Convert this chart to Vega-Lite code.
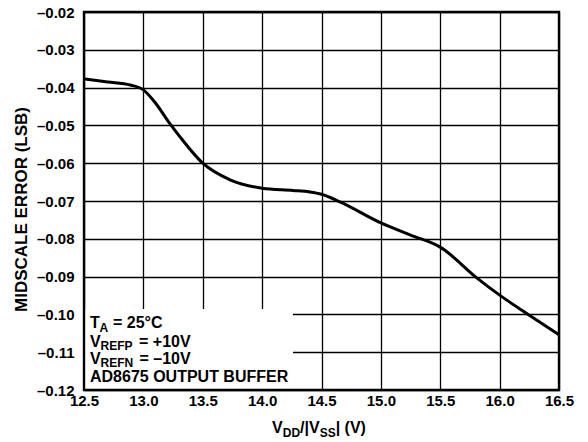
{
  "$schema": "https://vega.github.io/schema/vega-lite/v6.json",
  "width": 475,
  "height": 378,
  "autosize": {"type": "none"},
  "padding": {"left": 84, "top": 12, "right": 29, "bottom": 52},
  "background": "white",
  "config": {
    "font": "Liberation Sans",
    "view": {"stroke": null},
    "axis": {
      "domain": false,
      "ticks": false,
      "grid": true,
      "gridColor": "#000000",
      "gridWidth": 1.3,
      "gridOpacity": 1,
      "labelFont": "Liberation Sans",
      "labelFontWeight": "bold",
      "labelFontSize": 15,
      "labelColor": "#000000",
      "labelFlush": false,
      "labelOverlap": false,
      "titleFont": "Liberation Sans",
      "titleFontWeight": "bold",
      "titleColor": "#000000"
    },
    "text": {"font": "Liberation Sans", "fontWeight": "bold", "color": "#000000", "align": "left", "baseline": "alphabetic"}
  },
  "data": {
    "values": [
      {"v": 12.5, "err": -0.0377},
      {"v": 12.7, "err": -0.0385},
      {"v": 12.89, "err": -0.0393},
      {"v": 13.0, "err": -0.0406},
      {"v": 13.1, "err": -0.0440},
      {"v": 13.22, "err": -0.0494},
      {"v": 13.31, "err": -0.0531},
      {"v": 13.5, "err": -0.0600},
      {"v": 13.73, "err": -0.0644},
      {"v": 14.0, "err": -0.0666},
      {"v": 14.26, "err": -0.0672},
      {"v": 14.4, "err": -0.0676},
      {"v": 14.5, "err": -0.0682},
      {"v": 14.66, "err": -0.0703},
      {"v": 15.0, "err": -0.0758},
      {"v": 15.25, "err": -0.0790},
      {"v": 15.5, "err": -0.0822},
      {"v": 15.81, "err": -0.0904},
      {"v": 16.0, "err": -0.0949},
      {"v": 16.25, "err": -0.1002},
      {"v": 16.5, "err": -0.1054}
    ]
  },
  "layer": [
    {
      "mark": {"type": "line", "color": "#000000", "strokeWidth": 3, "interpolate": "monotone"},
      "encoding": {
        "x": {"field": "v", "type": "quantitative", "scale": {"domain": [12.5, 16.5], "nice": false, "zero": false},
          "axis": {"tickCount": 8, "format": ".1f", "labelPadding": 3, "title": null}},
        "y": {"field": "err", "type": "quantitative", "scale": {"domain": [-0.12, -0.02], "nice": false, "zero": false},
          "axis": {"tickCount": 10, "tickMinStep": 0.01,
            "labelExpr": "'–' + format(abs(datum.value), '.2f')", "labelPadding": 10,
            "title": "MIDSCALE ERROR (LSB)", "titleFontSize": 17, "titleAngle": 270,
            "titleX": -63, "titleY": 197, "titleAlign": "center", "titleBaseline": "middle"}}
      }
    },
    {
      "data": {"values": [{}]},
      "mark": {"type": "rect", "fill": "white", "stroke": null},
      "encoding": {
        "x": {"datum": 12.5, "type": "quantitative"},
        "x2": {"datum": 14.26},
        "y": {"datum": -0.12, "type": "quantitative"},
        "y2": {"datum": -0.0986}
      }
    },
    {
      "data": {"values": [{}]},
      "mark": {"type": "rect", "fill": null, "fillOpacity": 0, "stroke": "#000000", "strokeWidth": 2.4},
      "encoding": {
        "x": {"datum": 12.5, "type": "quantitative"},
        "x2": {"datum": 16.5},
        "y": {"datum": -0.12, "type": "quantitative"},
        "y2": {"datum": -0.02}
      }
    },
    {"data": {"values": [{}]}, "mark": {"type": "text", "text": "T", "fontSize": 16, "dx": 6},
      "encoding": {"x": {"datum": 12.5, "type": "quantitative"}, "y": {"datum": -0.10368, "type": "quantitative"}}},
    {"data": {"values": [{}]}, "mark": {"type": "text", "text": "A", "fontSize": 12, "dx": 15.5, "dy": 3.5},
      "encoding": {"x": {"datum": 12.5, "type": "quantitative"}, "y": {"datum": -0.10368, "type": "quantitative"}}},
    {"data": {"values": [{}]}, "mark": {"type": "text", "text": "= 25°C", "fontSize": 16, "dx": 29},
      "encoding": {"x": {"datum": 12.5, "type": "quantitative"}, "y": {"datum": -0.10368, "type": "quantitative"}}},
    {"data": {"values": [{}]}, "mark": {"type": "text", "text": "V", "fontSize": 16, "dx": 6},
      "encoding": {"x": {"datum": 12.5, "type": "quantitative"}, "y": {"datum": -0.10854, "type": "quantitative"}}},
    {"data": {"values": [{}]}, "mark": {"type": "text", "text": "REFP", "fontSize": 12, "dx": 16.5, "dy": 3.5},
      "encoding": {"x": {"datum": 12.5, "type": "quantitative"}, "y": {"datum": -0.10854, "type": "quantitative"}}},
    {"data": {"values": [{}]}, "mark": {"type": "text", "text": "= +10V", "fontSize": 16, "dx": 55},
      "encoding": {"x": {"datum": 12.5, "type": "quantitative"}, "y": {"datum": -0.10854, "type": "quantitative"}}},
    {"data": {"values": [{}]}, "mark": {"type": "text", "text": "V", "fontSize": 16, "dx": 6},
      "encoding": {"x": {"datum": 12.5, "type": "quantitative"}, "y": {"datum": -0.1132, "type": "quantitative"}}},
    {"data": {"values": [{}]}, "mark": {"type": "text", "text": "REFN", "fontSize": 12, "dx": 16.5, "dy": 3},
      "encoding": {"x": {"datum": 12.5, "type": "quantitative"}, "y": {"datum": -0.1132, "type": "quantitative"}}},
    {"data": {"values": [{}]}, "mark": {"type": "text", "text": "= –10V", "fontSize": 16, "dx": 55.5},
      "encoding": {"x": {"datum": 12.5, "type": "quantitative"}, "y": {"datum": -0.1132, "type": "quantitative"}}},
    {"data": {"values": [{}]}, "mark": {"type": "text", "text": "AD8675 OUTPUT BUFFER", "fontSize": 16, "dx": 6},
      "encoding": {"x": {"datum": 12.5, "type": "quantitative"}, "y": {"datum": -0.1178, "type": "quantitative"}}},
    {"data": {"values": [{}]}, "mark": {"type": "text", "text": "V", "fontSize": 16, "dx": -49.4},
      "encoding": {"x": {"datum": 14.5, "type": "quantitative"}, "y": {"datum": -0.13146, "type": "quantitative"}}},
    {"data": {"values": [{}]}, "mark": {"type": "text", "text": "DD", "fontSize": 12, "dx": -38.7, "dy": 3.5},
      "encoding": {"x": {"datum": 14.5, "type": "quantitative"}, "y": {"datum": -0.13146, "type": "quantitative"}}},
    {"data": {"values": [{}]}, "mark": {"type": "text", "text": "/|V", "fontSize": 16, "dx": -21.4},
      "encoding": {"x": {"datum": 14.5, "type": "quantitative"}, "y": {"datum": -0.13146, "type": "quantitative"}}},
    {"data": {"values": [{}]}, "mark": {"type": "text", "text": "SS", "fontSize": 12, "dx": -1.8, "dy": 3.5},
      "encoding": {"x": {"datum": 14.5, "type": "quantitative"}, "y": {"datum": -0.13146, "type": "quantitative"}}},
    {"data": {"values": [{}]}, "mark": {"type": "text", "text": "| (V)", "fontSize": 16, "dx": 14.2},
      "encoding": {"x": {"datum": 14.5, "type": "quantitative"}, "y": {"datum": -0.13146, "type": "quantitative"}}}
  ]
}
